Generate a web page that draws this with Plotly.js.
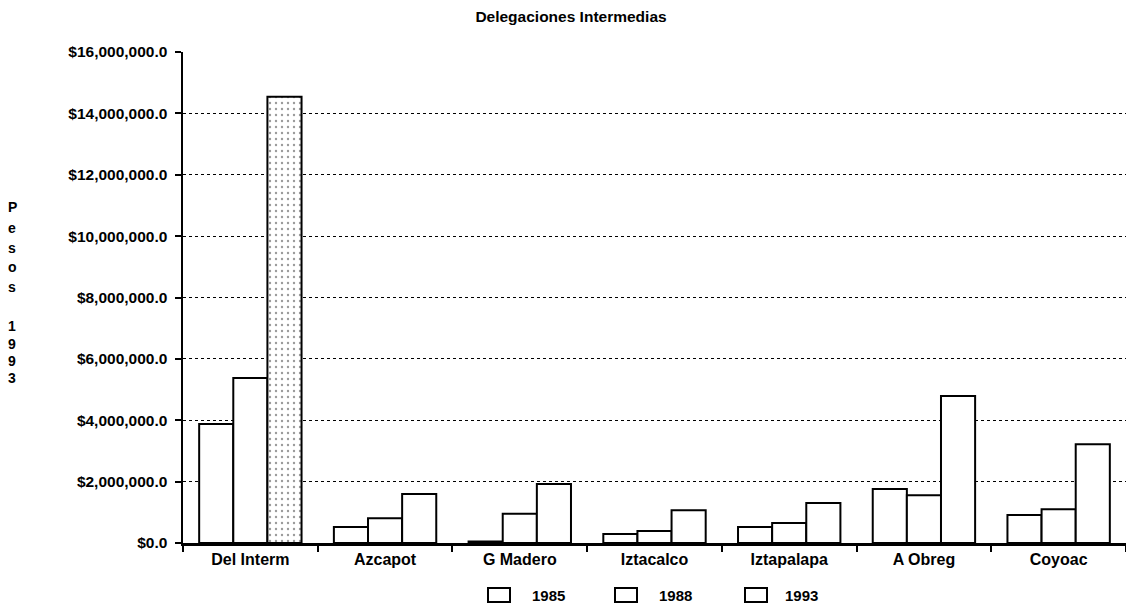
<!DOCTYPE html>
<html>
<head>
<meta charset="utf-8">
<script src="https://cdn.plot.ly/plotly-3.0.1.min.js"></script>
<style>
  html, body { margin: 0; padding: 0; background: #fff; }
  #chart { width: 1126px; height: 607px; }
</style>
</head>
<body>
<div id="chart"></div>
<script>
// ---- Data ----
const categories = ['Del Interm', 'Azcapot', 'G Madero', 'Iztacalco', 'Iztapalapa', 'A Obreg', 'Coyoac'];
const seriesNames = ['1985', '1988', '1993'];
const values1985 = [3880000, 520000, 50000, 290000, 520000, 1760000, 910000];
const values1988 = [5380000, 810000, 950000, 390000, 650000, 1560000, 1100000];
const values1993 = [14540000, 1600000, 1920000, 1070000, 1300000, 4790000, 3220000];
const yTickValues = [0, 2000000, 4000000, 6000000, 8000000, 10000000, 12000000, 14000000, 16000000];
const yTickLabels = ['$0.0', '$2,000,000.0', '$4,000,000.0', '$6,000,000.0', '$8,000,000.0',
                     '$10,000,000.0', '$12,000,000.0', '$14,000,000.0', '$16,000,000.0'];
const titleText = 'Delegaciones Intermedias';
const yTitleChars = ['P', 'e', 's', 'o', 's', '', '1', '9', '9', '3'];

// ---- Style ----
const FONT = 'Liberation Sans, Arial, Helvetica, sans-serif';
const W = 1126, H = 607;
const M = { l: 183, r: 0, t: 52, b: 64 };
const plotH = H - M.t - M.b;
const plotW = W - M.l - M.r;
const px2x = px => (px - M.l) / plotW;
const px2y = py => (H - M.b - py) / plotH;

function barTrace(name, vals, patternShapes) {
  const marker = { color: '#ffffff', line: { color: '#000000', width: 2 } };
  if (patternShapes) {
    marker.pattern = { shape: patternShapes, fgcolor: '#9a9a9a', bgcolor: '#ffffff', size: 6, solidity: 0.12 };
  }
  return {
    type: 'bar', name: name, x: categories, y: vals, marker: marker,
    showlegend: false, hoverinfo: 'x+y+name'
  };
}

const patt1993 = values1993.map((v, i) => (i === 0 ? '.' : ''));

const data = [
  barTrace(seriesNames[0], values1985),
  barTrace(seriesNames[1], values1988),
  barTrace(seriesNames[2], values1993, patt1993)
];

// vertical stacked y-axis title letters
const letterY = [207, 228, 248, 267, 287, 306, 326, 344, 361, 378];
const annotations = yTitleChars.map((ch, i) => ({
  text: ch, showarrow: false,
  xref: 'paper', yref: 'paper',
  x: px2x(12), y: px2y(letterY[i]),
  xanchor: 'center', yanchor: 'middle',
  font: { family: FONT, size: 14, color: '#000', weight: 'bold' }
})).filter(a => a.text !== '');

// custom legend (boxes + labels)
const legendBoxX = [488, 615, 745];
const legendTextX = [530, 657, 783];
const shapes = [];
seriesNames.forEach((name, i) => {
  shapes.push({
    type: 'rect', xref: 'paper', yref: 'paper',
    x0: px2x(legendBoxX[i]), x1: px2x(legendBoxX[i] + 22),
    y0: px2y(602), y1: px2y(588),
    line: { color: '#000', width: 2 }, fillcolor: '#ffffff'
  });
  annotations.push({
    text: name, showarrow: false, xref: 'paper', yref: 'paper',
    x: px2x(legendTextX[i]), y: px2y(595), xanchor: 'left', yanchor: 'middle',
    font: { family: FONT, size: 15, color: '#000', weight: 'bold' }
  });
});

const layout = {
  width: W, height: H,
  margin: M,
  paper_bgcolor: '#ffffff', plot_bgcolor: '#ffffff',
  font: { family: FONT, color: '#000' },
  title: {
    text: titleText,
    font: { family: FONT, size: 15.5, color: '#000', weight: 'bold' },
    x: 571 / W, xanchor: 'center', xref: 'container',
    y: 1 - 17 / H, yanchor: 'middle', yref: 'container'
  },
  barmode: 'group',
  bargap: 0.24,
  bargroupgap: 0,
  showlegend: false,
  xaxis: {
    type: 'category',
    showline: true, linecolor: '#000', linewidth: 2.5,
    ticks: 'outside', tickson: 'boundaries', ticklen: 6, tickwidth: 2, tickcolor: '#000',
    showgrid: false, zeroline: false,
    tickfont: { family: FONT, size: 16, color: '#000', weight: 'bold' },
    range: [-0.5, 6.5], fixedrange: true
  },
  yaxis: {
    range: [0, 16000000],
    tickvals: yTickValues, ticktext: yTickLabels,
    showline: true, linecolor: '#000', linewidth: 2.5,
    ticks: 'outside', ticklen: 6, tickwidth: 2, tickcolor: '#000',
    ticklabelstandoff: 4,
    showgrid: true, gridcolor: '#000', gridwidth: 1, griddash: 'dot',
    zeroline: false,
    tickfont: { family: FONT, size: 15.5, color: '#000', weight: 'bold' },
    fixedrange: true
  },
  shapes: shapes,
  annotations: annotations
};

Plotly.newPlot('chart', data, layout, { displayModeBar: false, staticPlot: true });
</script>
</body>
</html>
